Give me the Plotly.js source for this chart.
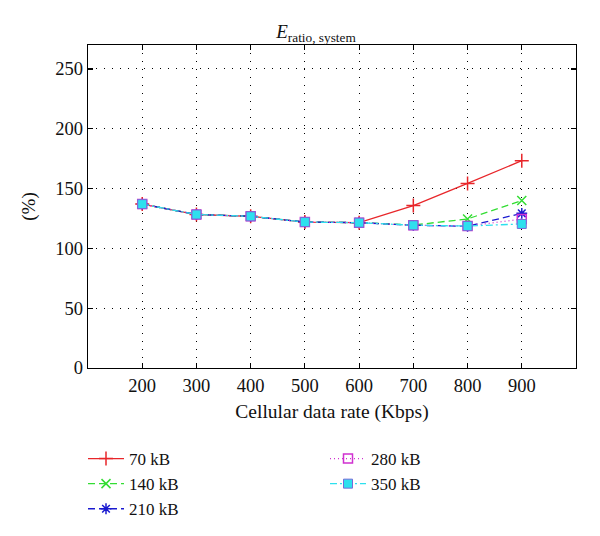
<!DOCTYPE html>
<html>
<head>
<meta charset="utf-8">
<script src="https://cdn.plot.ly/plotly-3.0.1.min.js"></script>
<style>html,body{margin:0;padding:0;background:#fff}#chart{width:600px;height:536px}</style>
</head>
<body>
<div id="chart"></div>
<script>
const rates = [200, 300, 400, 500, 600, 700, 800, 900];
const seriesNames = ['70 kB', '140 kB', '210 kB', '280 kB', '350 kB'];
const s70  = [137, 128.3, 126.8, 122, 121.5, 135.8, 154.3, 173.3];
const s140 = [137, 128.3, 126.8, 122, 121.5, 119.5, 124.6, 140.0];
const s210 = [137, 128.3, 126.8, 122, 121.5, 119.3, 118.5, 129.3];
const s280 = [137, 128.3, 126.8, 122, 121.5, 119.3, 118.6, 124.5];
const s350 = [137, 128.3, 126.8, 122, 121.5, 119.3, 118.7, 120.4];
const yTicks = [0, 50, 100, 150, 200, 250];

const FONT = '"Times New Roman", "Liberation Serif", Times, serif';
const values = [s70, s140, s210, s280, s350];
const colors = ['#e8262a', '#33dd33', '#1a1ad0', '#d030d0', '#2ee0ee'];
const dashes = ['solid', '7px,4px', '7px,4px', '1px,3px', '7px,3px,2px,3px'];
const symbols = ['cross-thin-open', 'x-thin-open', 'asterisk-open', 'square-open', 'square'];
const sizes = [10, 9, 9, 9, 9];
const legends = ['legend', 'legend', 'legend', 'legend2', 'legend2'];

const traces = values.map((v, i) => ({
  x: rates, y: v, name: seriesNames[i], type: 'scatter', mode: 'lines+markers',
  legend: legends[i],
  line: {color: colors[i], width: 1.3, dash: dashes[i]},
  marker: {symbol: symbols[i], size: sizes[i], color: colors[i],
           line: {color: i === 4 ? '#7a6ad8' : colors[i], width: i === 4 ? 1 : 1.5}}
}));

const axisCommon = {
  showline: true, linecolor: '#000', linewidth: 1.3, mirror: 'ticks',
  ticks: 'inside', ticklen: 5, tickcolor: '#000', tickwidth: 1.2,
  showgrid: true, gridcolor: '#000', gridwidth: 1, griddash: '1px,7px',
  zeroline: false, tickfont: {family: FONT, size: 18.5, color: '#111'}
};

const layout = {
  width: 600, height: 536,
  margin: {l: 88, r: 24, t: 45, b: 168, autoexpand: false},
  paper_bgcolor: '#fff', plot_bgcolor: '#fff',
  font: {family: FONT, color: '#111'},
  title: {text: '<i>E</i><sub>ratio, system</sub>', font: {family: FONT, size: 19, color: '#111'},
          x: 316 / 600, xanchor: 'center', y: 1 - 31 / 536, yanchor: 'middle', xref: 'container', yref: 'container'},
  xaxis: Object.assign({}, axisCommon, {
    range: [100, 1000], tickvals: rates, ticktext: rates.map(String),
    title: {text: 'Cellular data rate (Kbps)', font: {family: FONT, size: 19.5, color: '#111'}, standoff: 9}
  }),
  yaxis: Object.assign({}, axisCommon, {
    range: [0, 270], tickvals: yTicks, ticktext: yTicks.map(String),
    title: {text: '(%)', font: {family: FONT, size: 19, color: '#111'}, standoff: 14}
  }),
  legend: {x: -5 / 488, xanchor: 'left', y: -0.226, yanchor: 'top', orientation: 'v',
           font: {family: FONT, size: 17, color: '#111'}, bgcolor: 'rgba(0,0,0,0)', tracegroupgap: 0, itemwidth: 36},
  legend2: {x: (325 - 88) / 488, xanchor: 'left', y: -0.226, yanchor: 'top', orientation: 'v',
           font: {family: FONT, size: 17, color: '#111'}, bgcolor: 'rgba(0,0,0,0)', tracegroupgap: 0, itemwidth: 36},
  showlegend: true
};

Plotly.newPlot('chart', traces, layout, {displayModeBar: false, staticPlot: true});
</script>
</body>
</html>
